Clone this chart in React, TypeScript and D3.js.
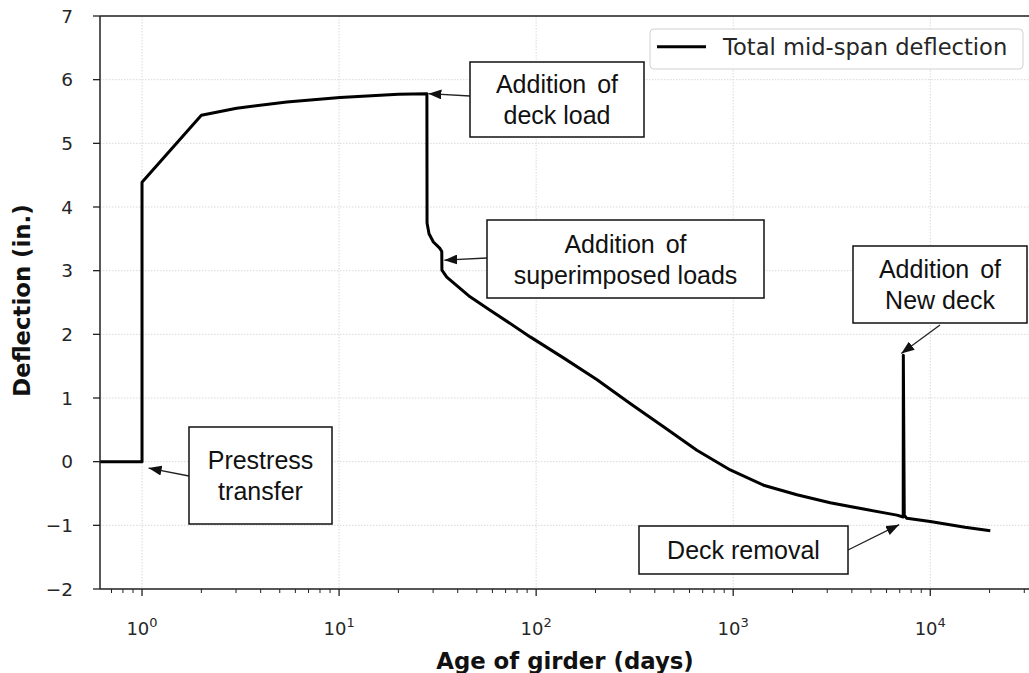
import React from "react";
import * as d3 from "d3";

// ---- data ----
const days = [
  0.612, 1.0, 1.0, 2.0, 3.02, 5.43, 10.1, 20, 27.9, 27.95, 28.6, 30.1, 32.5, 33.2, 33.25,
  35.2, 46.2, 58.4, 93.3, 137.6, 203, 300, 443, 654, 966, 1426, 2105, 3105, 4586, 6772,
  7290, 7300, 7380, 7600, 10000, 15000, 20170,
];
const deflection = [
  0, 0, 4.39, 5.44, 5.55, 5.65, 5.72, 5.77, 5.78, 3.75, 3.58, 3.45, 3.35, 3.3, 3.01,
  2.9, 2.59, 2.38, 1.96, 1.63, 1.29, 0.915, 0.55, 0.18, -0.13, -0.37, -0.52, -0.645, -0.745, -0.84,
  -0.87, 1.67, -0.84, -0.89, -0.94, -1.03, -1.085,
];
const yTicks = [-2, -1, 0, 1, 2, 3, 4, 5, 6, 7];
const xDecades = [0, 1, 2, 3, 4];
const legendLabel = "Total mid-span deflection";
const xLabel = "Age of girder (days)";
const yLabel = "Deflection (in.)";

// annotations: text lines, box, arrow start (box edge) and arrow target (data units)
const annotations = [
  { lines: ["Prestress", "transfer"], box: [189, 427, 332, 524], from: [189, 476], to: [1.08, -0.1] },
  { lines: ["Addition of", "deck load"], box: [470, 62, 644, 137], from: [470, 96], to: [28.4, 5.78] },
  { lines: ["Addition of", "superimposed loads"], box: [487, 220, 764, 298], from: [487, 258], to: [34.2, 3.165] },
  { lines: ["Addition of", "New deck"], box: [853, 246, 1027, 323], from: [940, 325], to: [7127, 1.7] },
  { lines: ["Deck removal"], box: [639, 526, 848, 574], from: [848, 550], to: [6950, -0.99] },
];

const W = 1029;
const H = 673;
const left = 100;
const right = 1035;
const top = 16;
const bottom = 589;

export default function App() {
  const x = d3.scaleLog().domain([0.612, 34000]).range([left, right]);
  const y = d3.scaleLinear().domain([-2, 7]).range([bottom, top]);

  const pts = days.map((d, i) => [d, deflection[i]] as [number, number]);
  const line = d3
    .line<[number, number]>()
    .x((d) => x(d[0]))
    .y((d) => y(d[1]))
    .curve(d3.curveLinear);

  const minor: number[] = [];
  for (let e = -1; e <= 4; e++) {
    for (let m = 2; m <= 9; m++) {
      const v = m * Math.pow(10, e);
      if (v >= 0.612 && v <= 34000) minor.push(v);
    }
  }

  const tickFont = "DejaVu Sans, sans-serif";
  const annFont = "Liberation Sans, Arial, sans-serif";
  const axisColor = "#222";
  const textColor = "#262626";

  return (
    <svg
      width={W}
      height={H}
      style={{ position: "absolute", left: 0, top: 0, background: "#fff" }}
    >
      <defs>
        <marker
          id="ah"
          markerUnits="userSpaceOnUse"
          markerWidth={14}
          markerHeight={10}
          refX={13}
          refY={5}
          orient="auto"
        >
          <path d="M0,0 L13,5 L0,10 Z" fill="#111" />
        </marker>
        <clipPath id="plot">
          <rect x={left} y={top} width={right - left} height={bottom - top} />
        </clipPath>
      </defs>
      <rect x={0} y={0} width={W} height={H} fill="#fff" />

      {/* grid */}
      <g stroke="#d9d9d9" strokeWidth={1} strokeDasharray="1.5,1.5">
        {yTicks.map((t) => (
          <line key={"gy" + t} x1={left} x2={right} y1={y(t)} y2={y(t)} />
        ))}
        {xDecades.map((e) => (
          <line key={"gx" + e} x1={x(Math.pow(10, e))} x2={x(Math.pow(10, e))} y1={top} y2={bottom} />
        ))}
      </g>

      {/* data line */}
      <path
        d={line(pts) || ""}
        fill="none"
        stroke="#000"
        strokeWidth={3}
        strokeLinejoin="round"
        clipPath="url(#plot)"
      />

      {/* spines */}
      <g stroke={axisColor} strokeWidth={1.5} fill="none">
        <line x1={left} x2={left} y1={top} y2={bottom} />
        <line x1={left} x2={right} y1={bottom} y2={bottom} />
        <line x1={left} x2={right} y1={top} y2={top} />
        <line x1={right} x2={right} y1={top} y2={bottom} />
      </g>

      {/* y ticks */}
      <g>
        {yTicks.map((t) => (
          <g key={"yt" + t}>
            <line x1={left - 7} x2={left} y1={y(t)} y2={y(t)} stroke={axisColor} strokeWidth={1.3} />
            <text
              x={73}
              y={y(t) + 6.5}
              textAnchor="end"
              fontFamily={tickFont}
              fontSize={18.5}
              fill={textColor}
            >
              {t < 0 ? "\u2212" + Math.abs(t) : String(t)}
            </text>
          </g>
        ))}
      </g>

      {/* x ticks */}
      <g>
        {minor.map((v, i) => (
          <line key={"mn" + i} x1={x(v)} x2={x(v)} y1={bottom} y2={bottom + 4} stroke={axisColor} strokeWidth={1} />
        ))}
        {xDecades.map((e) => (
          <g key={"xt" + e}>
            <line
              x1={x(Math.pow(10, e))}
              x2={x(Math.pow(10, e))}
              y1={bottom}
              y2={bottom + 7}
              stroke={axisColor}
              strokeWidth={1.3}
            />
            <text
              x={x(Math.pow(10, e))}
              y={635}
              textAnchor="middle"
              fontFamily={tickFont}
              fontSize={18}
              fill={textColor}
            >
              <tspan>10</tspan>
              <tspan dy={-8} fontSize={13}>
                {String(e)}
              </tspan>
            </text>
          </g>
        ))}
      </g>

      {/* axis labels */}
      <text
        x={565}
        y={669}
        textAnchor="middle"
        fontFamily={tickFont}
        fontWeight="bold"
        fontSize={22.8}
        fill="#111"
      >
        {xLabel}
      </text>
      <text
        transform={`translate(30,300.5) rotate(-90)`}
        textAnchor="middle"
        fontFamily={tickFont}
        fontWeight="bold"
        fontSize={22.8}
        fill="#111"
      >
        {yLabel}
      </text>

      {/* legend */}
      <g>
        <rect
          x={650}
          y={29}
          width={373}
          height={40}
          rx={4}
          fill="#fff"
          fillOpacity={0.85}
          stroke="#d0d0d0"
          strokeWidth={1}
        />
        <line x1={657} x2={706} y1={46.7} y2={46.7} stroke="#000" strokeWidth={3} />
        <text x={723} y={54.5} fontFamily={tickFont} fontSize={22.6} fill={textColor}>
          {legendLabel}
        </text>
      </g>

      {/* annotations */}
      {annotations.map((a, i) => {
        const [bx0, by0, bx1, by1] = a.box;
        const cx = (bx0 + bx1) / 2;
        const cy = (by0 + by1) / 2;
        const lh = 31;
        const n = a.lines.length;
        return (
          <g key={"an" + i}>
            <line
              x1={a.from[0]}
              y1={a.from[1]}
              x2={x(a.to[0])}
              y2={y(a.to[1])}
              stroke="#222"
              strokeWidth={1.3}
              markerEnd="url(#ah)"
            />
            <rect
              x={bx0}
              y={by0}
              width={bx1 - bx0}
              height={by1 - by0}
              fill="#fff"
              stroke="#111"
              strokeWidth={1.5}
            />
            {a.lines.map((l, j) => (
              <text
                key={j}
                x={cx}
                y={cy + (j - (n - 1) / 2) * lh + 9}
                textAnchor="middle"
                fontFamily={annFont}
                fontSize={25}
                wordSpacing={l.startsWith("Addition") ? 4 : 0}
                fill="#111"
              >
                {l}
              </text>
            ))}
          </g>
        );
      })}
    </svg>
  );
}
